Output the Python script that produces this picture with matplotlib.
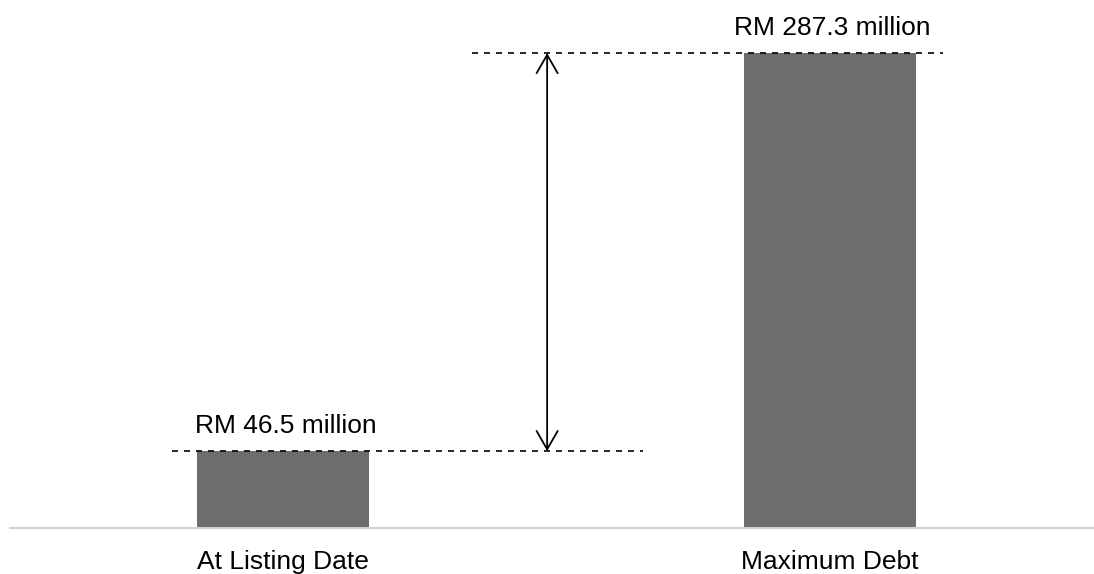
import matplotlib.pyplot as plt

# debt levels (RM million)
categories = ["At Listing Date", "Maximum Debt"]
values = [46.5, 287.3]
value_labels = ["RM 46.5 million", "RM 287.3 million"]

plt.rcParams['font.family'] = ['Liberation Sans', 'DejaVu Sans']

fig = plt.figure(figsize=(10.94, 5.74), dpi=100)
ax = fig.add_axes([10 / 1094, 46 / 574, 1084 / 1094, 528 / 574])

x = range(len(categories))
ax.bar(x, values, width=0.3145, color="#6d6d6d", zorder=2)

ax.set_xlim(-0.5, 1.483)
ax.set_ylim(0, 319.4)

# value labels above the bars
for xi, v, lab in zip(x, values, value_labels):
    ax.annotate(lab, (xi + 0.004, v), xytext=(0, 18), textcoords="offset points",
                ha="center", va="center", fontsize=19, color="black")

# dashed reference lines at both levels
ax.hlines(values[0], -0.203, 0.658, colors="black", linewidth=1.2,
          linestyles=(0, (3.6, 3.6)), zorder=3)
ax.hlines(values[1], 0.3455, 1.2066, colors="black", linewidth=1.2,
          linestyles=(0, (3.6, 3.6)), zorder=3)

# double arrow showing the increase
ax.annotate("", xy=(0.4826, values[1]), xytext=(0.4826, values[0]),
            arrowprops=dict(arrowstyle="<->,head_length=0.4,head_width=0.23",
                            color="black", lw=1.3,
                            mutation_scale=33, shrinkA=0, shrinkB=0))

ax.set_xticks(list(x))
ax.set_xticklabels(categories, fontsize=19, color="black")
ax.tick_params(axis="x", length=0, pad=16)
ax.set_yticks([])

for s in ["top", "left", "right"]:
    ax.spines[s].set_visible(False)
ax.spines["bottom"].set_color("#d0d0d0")
ax.spines["bottom"].set_linewidth(1.5)

fig.savefig("out.png", dpi=100)
